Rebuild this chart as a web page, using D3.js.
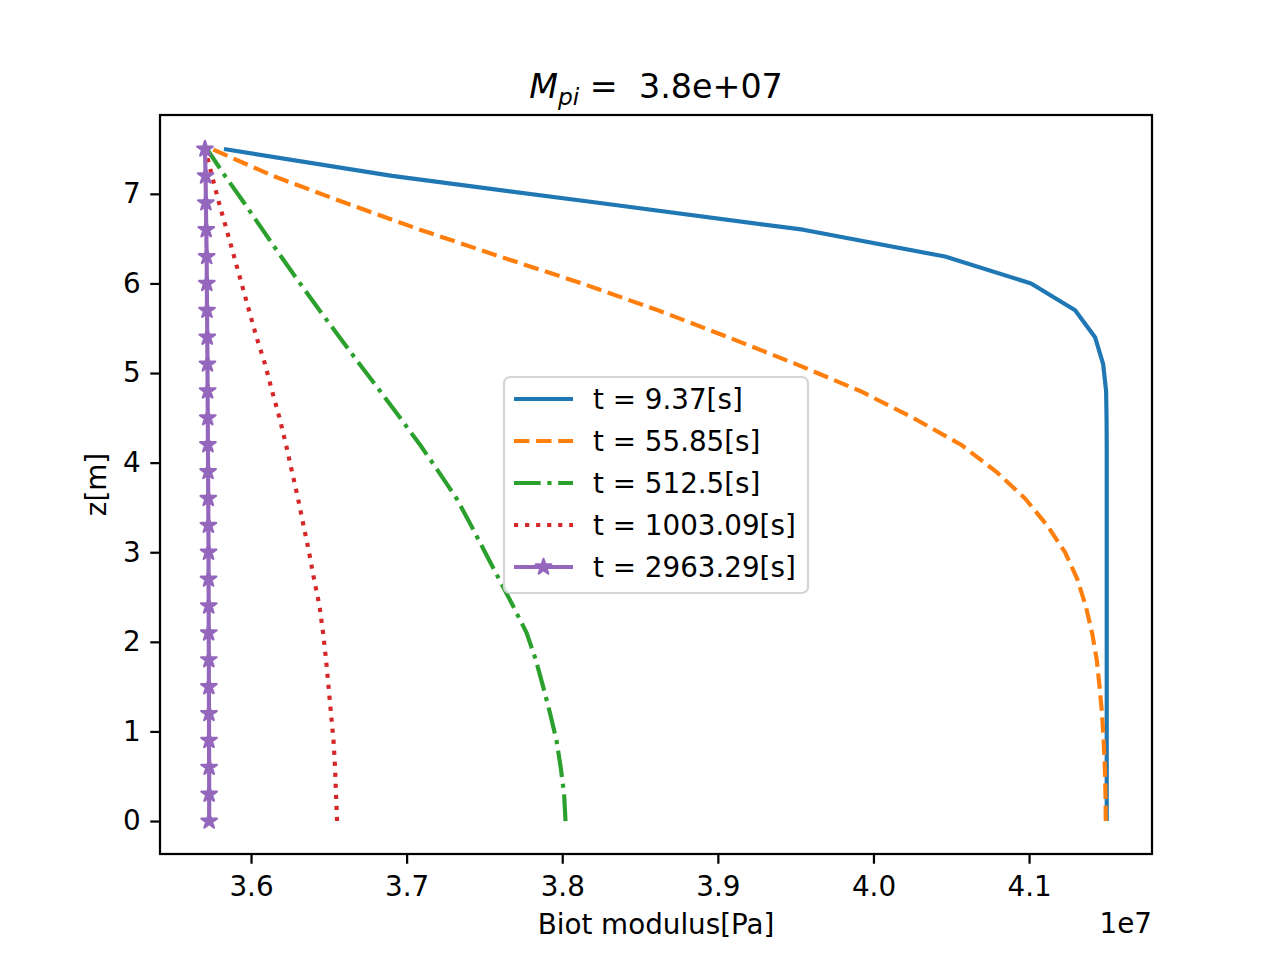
<!DOCTYPE html>
<html>
<head>
<meta charset="utf-8">
<script src="https://cdn.jsdelivr.net/npm/d3@7"></script>
<style>
  body { margin: 0; background: #fff; }
  svg { font-family: "DejaVu Sans", sans-serif; }
</style>
</head>
<body>
<div id="chart"></div>
<script>
// depth points (z in m)
const zValues = [0, 0.3, 0.6, 0.9, 1.2, 1.5, 1.8, 2.1, 2.4, 2.7, 3.0, 3.3, 3.6,
  3.9, 4.2, 4.5, 4.8, 5.1, 5.4, 5.7, 6.0, 6.3, 6.6, 6.9, 7.2, 7.5];

// Biot modulus, in units of 1e7 Pa, one entry per z above
const mT1 = [4.1499, 4.1499, 4.1499, 4.1499, 4.1499, 4.1499, 4.1499, 4.1499, 4.1499, 4.1499,
  4.1499, 4.1499, 4.1499, 4.1499, 4.1499, 4.1498, 4.1495, 4.1476, 4.1424, 4.1296,
  4.1013, 4.0460, 3.9548, 3.8230, 3.6906, 3.5826];
const mT2 = [4.1493, 4.1491, 4.1487, 4.1479, 4.1469, 4.1453, 4.1435, 4.1405, 4.1364, 4.1310,
  4.1231, 4.1116, 4.0974, 4.0788, 4.0563, 4.0254, 3.9914, 3.9503, 3.9066, 3.8616,
  3.8127, 3.7600, 3.7086, 3.6604, 3.6141, 3.5749];
const mT3 = [3.8021, 3.8012, 3.7990, 3.7963, 3.7922, 3.7877, 3.7830, 3.7771, 3.7684, 3.7594,
  3.7504, 3.7414, 3.7321, 3.7205, 3.7086, 3.6958, 3.6829, 3.6697, 3.6569, 3.6440,
  3.6315, 3.6193, 3.6074, 3.5955, 3.5833, 3.5717];
const mT4 = [3.6553, 3.6546, 3.6540, 3.6530, 3.6514, 3.6498, 3.6482, 3.6463, 3.6440, 3.6405,
  3.6373, 3.6337, 3.6302, 3.6263, 3.6225, 3.6183, 3.6135, 3.6090, 3.6035, 3.5987,
  3.5939, 3.5891, 3.5843, 3.5794, 3.5749, 3.5706];
const mT5 = [3.5731, 3.5731, 3.5731, 3.5730, 3.5730, 3.5729, 3.5729, 3.5728, 3.5728, 3.5727,
  3.5727, 3.5726, 3.5725, 3.5724, 3.5723, 3.5722, 3.5721, 3.5720, 3.5719, 3.5717,
  3.5716, 3.5715, 3.5712, 3.5710, 3.5708, 3.5704];

const seriesLabels = ["t = 9.37[s]", "t = 55.85[s]", "t = 512.5[s]", "t = 1003.09[s]", "t = 2963.29[s]"];
const xTicks = [3.6, 3.7, 3.8, 3.9, 4.0, 4.1];
const yTicks = [0, 1, 2, 3, 4, 5, 6, 7];

const width = 1280, height = 960;
const margin = { top: 115, right: 128, bottom: 106, left: 160 };
const innerW = width - margin.left - margin.right;
const innerH = height - margin.top - margin.bottom;

// matplotlib look at 200 dpi
const pt = 200 / 72;
const lw = 1.5 * pt;
const styles = [
  { color: "#1f77b4", dash: null },
  { color: "#ff7f0e", dash: [3.7 * lw, 1.6 * lw] },
  { color: "#2ca02c", dash: [6.4 * lw, 1.6 * lw, 1 * lw, 1.6 * lw] },
  { color: "#d62728", dash: [1 * lw, 1.65 * lw] },
  { color: "#9467bd", dash: null, star: true }
];
const starSize = 75;

const series = [mT1, mT2, mT3, mT4, mT5].map((vals, i) => ({
  label: seriesLabels[i],
  style: styles[i],
  points: vals.map((v, j) => ({ x: v, z: zValues[j] }))
}));

const svg = d3.select("#chart").append("svg")
  .attr("width", width)
  .attr("height", height);

const g = svg.append("g")
  .attr("transform", `translate(${margin.left},${margin.top})`);

// scales
const x = d3.scaleLinear()
  .domain([3.5415, 4.179])
  .range([0, innerW]);

const y = d3.scaleLinear()
  .domain([-0.368, 7.88])
  .range([innerH, 0]);

const fontSize = 10 * pt;

// axis
const xAxisG = g.append("g")
  .attr("transform", `translate(0,${innerH})`)
  .call(d3.axisBottom(x).tickValues(xTicks).tickFormat(d3.format(".1f"))
    .tickSizeInner(3.5 * pt).tickSizeOuter(0).tickPadding(3.5 * pt));

const yAxisG = g.append("g")
  .call(d3.axisLeft(y).tickValues(yTicks).tickFormat(d3.format("d"))
    .tickSizeInner(3.5 * pt).tickSizeOuter(0).tickPadding(3.5 * pt));

[xAxisG, yAxisG].forEach(ax => {
  ax.select(".domain").remove();
  ax.selectAll(".tick line").attr("stroke", "#000").attr("stroke-width", 0.8 * pt);
  ax.selectAll(".tick text")
    .attr("fill", "#000")
    .style("font-size", fontSize + "px")
    .style("font-family", "DejaVu Sans");
});
xAxisG.selectAll(".tick text").attr("dy", "0.8em");

// lines
const line = d3.line()
  .x(d => x(d.x))
  .y(d => y(d.z));

const plot = g.append("g");

series.forEach(s => {
  plot.append("path")
    .datum(s.points)
    .attr("fill", "none")
    .attr("stroke", s.style.color)
    .attr("stroke-width", lw)
    .attr("stroke-linejoin", "round")
    .attr("stroke-dasharray", s.style.dash ? s.style.dash.join(",") : null)
    .attr("d", line);

  if (s.style.star) {
    plot.selectAll(null)
      .data(s.points)
      .join("path")
      .attr("transform", d => `translate(${x(d.x)},${y(d.z)})`)
      .attr("d", d3.symbol(d3.symbolStar, starSize))
      .attr("fill", s.style.color)
      .attr("stroke", s.style.color)
      .attr("stroke-width", 2.2)
      .attr("stroke-linejoin", "round");
  }
});

// frame
g.append("rect")
  .attr("width", innerW)
  .attr("height", innerH)
  .attr("fill", "none")
  .attr("stroke", "#000")
  .attr("stroke-width", 0.8 * pt);

// legend
const legend = g.append("g")
  .attr("transform", `translate(${504 - margin.left},${377 - margin.top})`);

legend.append("rect")
  .attr("width", 304)
  .attr("height", 216)
  .attr("rx", 6)
  .attr("fill", "#fff")
  .attr("fill-opacity", 0.8)
  .attr("stroke", "#d5d5d5")
  .attr("stroke-width", 0.8 * pt);

series.forEach((s, i) => {
  const ly = 22 + i * 42;
  legend.append("line")
    .attr("x1", 10).attr("x2", 69)
    .attr("y1", ly).attr("y2", ly)
    .attr("stroke", s.style.color)
    .attr("stroke-width", lw)
    .attr("stroke-dasharray", s.style.dash ? s.style.dash.join(",") : null);
  if (s.style.star) {
    legend.append("path")
      .attr("transform", `translate(39.5,${ly})`)
      .attr("d", d3.symbol(d3.symbolStar, starSize))
      .attr("fill", s.style.color)
      .attr("stroke", s.style.color)
      .attr("stroke-width", 2.2)
      .attr("stroke-linejoin", "round");
  }
  legend.append("text")
    .attr("x", 89)
    .attr("y", ly)
    .attr("dy", "0.36em")
    .style("font-size", fontSize + "px")
    .text(s.label);
});

// axis labels
svg.append("text")
  .attr("x", margin.left + innerW / 2)
  .attr("y", 934)
  .attr("text-anchor", "middle")
  .style("font-size", fontSize + "px")
  .text("Biot modulus[Pa]");

svg.append("text")
  .attr("transform", "rotate(-90)")
  .attr("x", -(margin.top + innerH / 2))
  .attr("y", 106)
  .attr("text-anchor", "middle")
  .style("font-size", fontSize + "px")
  .text("z[m]");

// offset text
svg.append("text")
  .attr("x", margin.left + innerW)
  .attr("y", 933)
  .attr("text-anchor", "end")
  .style("font-size", fontSize + "px")
  .text("1e7");

// title
const title = svg.append("text")
  .attr("x", margin.left + innerW / 2)
  .attr("y", 98)
  .attr("text-anchor", "middle")
  .attr("xml:space", "preserve")
  .style("font-size", 12 * pt + "px");
title.append("tspan").style("font-style", "italic").text("M");
title.append("tspan").style("font-style", "italic").style("font-size", 12 * pt * 0.7 + "px")
  .attr("dy", 7).text("pi");
title.append("tspan").attr("dy", -7).text(" =  3.8e+07");
</script>
</body>
</html>
